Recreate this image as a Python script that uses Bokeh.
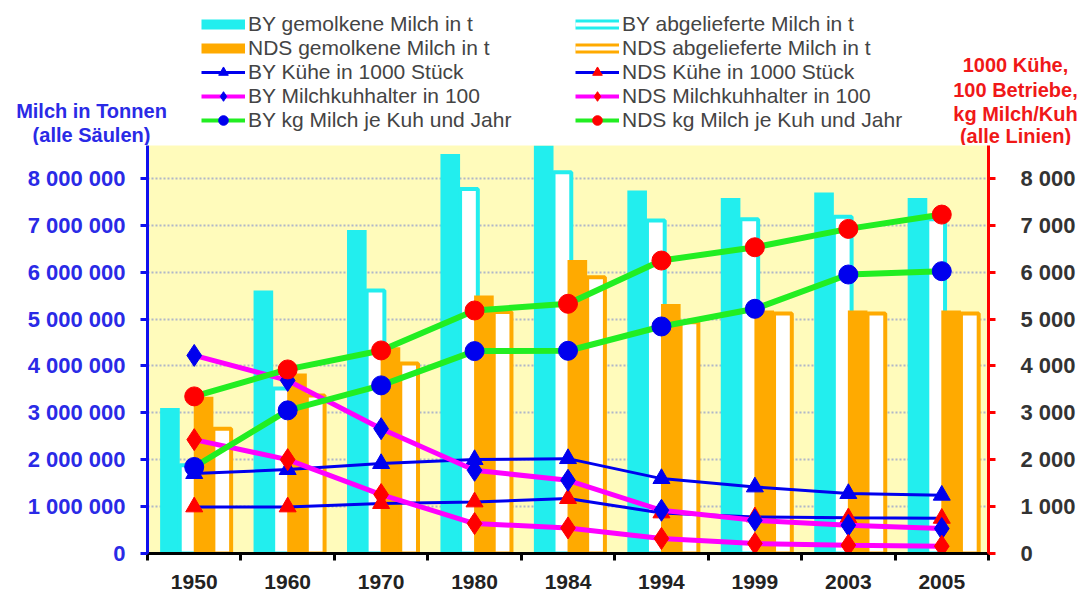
import numpy as np
from bokeh.plotting import figure
from bokeh.layouts import column
from bokeh.models import (Range1d, LinearAxis, FixedTicker, Legend, LegendItem, Label)
from bokeh.embed import file_html
from bokeh.resources import INLINE

# ---------------- data ----------------
years = ["1950", "1960", "1970", "1980", "1984", "1994", "1999", "2003", "2005"]

by_gemolken = [3100000, 5610000, 6900000, 8520000, 8750000, 7740000, 7580000, 7700000, 7580000]
by_abgeliefert = [1880000, 3520000, 5610000, 7770000, 8130000, 7100000, 7130000, 7180000, 7130000]
nds_gemolken = [3340000, 3840000, 4400000, 5500000, 6260000, 5320000, 5180000, 5180000, 5180000]
nds_abgeliefert = [2660000, 3370000, 4050000, 5150000, 5890000, 4930000, 5120000, 5120000, 5120000]

by_kuehe = [1704, 1789, 1917, 2002, 2023, 1597, 1419, 1278, 1242]
nds_kuehe = [993, 993, 1065, 1099, 1171, 865, 780, 760, 750]
by_halter = [4224, 3691, 2662, 1774, 1561, 922, 709, 603, 532]
nds_halter = [2428, 2002, 1257, 639, 545, 320, 213, 177, 155]
by_kg = [1845, 3052, 3585, 4316, 4323, 4841, 5218, 5949, 6020]
nds_kg = [3350, 3925, 4330, 5182, 5325, 6247, 6530, 6922, 7227]

left_tick_labels = ["0", "1 000 000", "2 000 000", "3 000 000", "4 000 000",
                    "5 000 000", "6 000 000", "7 000 000", "8 000 000"]
right_tick_labels = ["0", "1 000", "2 000", "3 000", "4 000", "5 000", "6 000", "7 000", "8 000"]

legend_col1 = ["BY gemolkene Milch in t", "NDS gemolkene Milch in t", "BY Kühe in 1000 Stück",
               "BY Milchkuhhalter in 100", "BY kg Milch je Kuh und Jahr"]
legend_col2 = ["BY abgelieferte Milch in t", "NDS abgelieferte Milch in t", "NDS Kühe in 1000 Stück",
               "NDS Milchkuhhalter in 100", "NDS kg Milch je Kuh und Jahr"]
left_title = ["Milch in Tonnen", "(alle Säulen)"]
right_title = ["1000 Kühe,", "100 Betriebe,", "kg Milch/Kuh", "(alle Linien)"]

# ---------------- styling ----------------
FONT = "Liberation Sans"
CYAN = "#22EEEE"
ORANGE = "#FFAA00"
BLUE = "#0000EE"
RED = "#FF0000"
GREEN = "#22EE22"
MAGENTA = "#FF00FF"
LEFT_COL = "#2A2AE6"
RIGHT_COL = "#F01818"

n = len(years)
xc = np.arange(n) + 0.5
left_ticks = [i * 1000000 for i in range(len(left_tick_labels))]
right_ticks = [i * 1000 for i in range(len(right_tick_labels))]

# ================= header (legends + axis titles) =================
HDR_H = 145
hdr = figure(width=1088, height=HDR_H, output_backend="svg", toolbar_location=None,
             x_range=Range1d(0, 1088), y_range=Range1d(HDR_H, 0),
             min_border=0, min_border_left=0, min_border_right=0,
             min_border_top=0, min_border_bottom=0,
             x_axis_location=None, y_axis_location=None,
             background_fill_color="white", border_fill_color="white",
             outline_line_color=None)
hdr.grid.visible = False
hdr.frame_align = False

nanx = [np.nan]


def proxy_bar(color, outline):
    rs = [hdr.line(nanx, nanx, line_color=color, line_width=10, line_cap="butt")]
    if outline:
        rs.append(hdr.line(nanx, nanx, line_color="white", line_width=4, line_cap="butt"))
    return rs


def proxy_series(lcolor, lw, marker, mcolor):
    return [hdr.line(nanx, nanx, line_color=lcolor, line_width=lw),
            hdr.scatter(nanx, nanx, marker=marker, fill_color=mcolor, line_color=mcolor)]


col1_r = [proxy_bar(CYAN, False), proxy_bar(ORANGE, False),
          proxy_series(BLUE, 3, "triangle", BLUE),
          proxy_series(MAGENTA, 4, "diamond", BLUE),
          proxy_series(GREEN, 4, "circle", BLUE)]
col2_r = [proxy_bar(CYAN, True), proxy_bar(ORANGE, True),
          proxy_series(BLUE, 3, "triangle", RED),
          proxy_series(MAGENTA, 4, "diamond", RED),
          proxy_series(GREEN, 4, "circle", RED)]

common = dict(padding=0, margin=0, border_line_color=None, background_fill_alpha=0,
              label_text_font=FONT, label_text_font_size="21px", label_standoff=3,
              glyph_width=44, glyph_height=24, label_height=20, spacing=0)
leg1 = Legend(items=[LegendItem(label=t, renderers=r) for t, r in zip(legend_col1, col1_r)],
              location=(201, 13), **common)
leg2 = Legend(items=[LegendItem(label=t, renderers=r) for t, r in zip(legend_col2, col2_r)],
              location=(575, 13), **common)
hdr.add_layout(leg1, "center")
hdr.add_layout(leg2, "center")

for t, y in zip(left_title, [110, 134]):
    hdr.add_layout(Label(x=91, y=y, text=t, text_align="center", text_baseline="middle",
                         text_font=FONT, text_font_size="20px", text_font_style="bold",
                         text_color=LEFT_COL))
for t, y in zip(right_title, [64, 89, 113, 135]):
    hdr.add_layout(Label(x=1015, y=y, text=t, text_align="center", text_baseline="middle",
                         text_font=FONT, text_font_size="20px", text_font_style="bold",
                         text_color=RIGHT_COL))

# ================= main chart =================
p = figure(width=1088, height=454, output_backend="svg", toolbar_location=None,
           x_range=Range1d(0, n), y_range=Range1d(0, 8700000),
           min_border_left=147, min_border_right=100, min_border_top=0, min_border_bottom=46,
           background_fill_color="#FFFBBB", border_fill_color="white",
           outline_line_color=None)
p.frame_align = False
p.extra_y_ranges = {"lines": Range1d(0, 8700)}

# bars
W = 0.21
WO = 0.19
p.vbar(x=xc - 0.26, top=by_gemolken, width=W, fill_color=CYAN, line_color=None)
p.vbar(x=xc - 0.06, top=by_abgeliefert, width=WO, fill_color="white", line_color=CYAN, line_width=4)
p.vbar(x=xc + 0.10, top=nds_gemolken, width=W, fill_color=ORANGE, line_color=None)
p.vbar(x=xc + 0.30, top=nds_abgeliefert, width=WO, fill_color="white", line_color=ORANGE, line_width=4)


def series(vals, lcolor, lw, marker, mcolor, msize):
    p.line(xc, vals, line_color=lcolor, line_width=lw, y_range_name="lines")
    p.scatter(xc, vals, marker=marker, size=msize, fill_color=mcolor,
              line_color=mcolor, y_range_name="lines")


series(by_kuehe, BLUE, 3, "triangle", BLUE, 17)
series(nds_kuehe, BLUE, 3, "triangle", RED, 17)
series(by_halter, MAGENTA, 5, "diamond", BLUE, 22)
series(nds_halter, MAGENTA, 5, "diamond", RED, 22)
series(by_kg, GREEN, 6, "circle", BLUE, 19)
series(nds_kg, GREEN, 6, "circle", RED, 19)

# grid
p.xgrid.visible = False
p.ygrid.ticker = FixedTicker(ticks=left_ticks)
p.ygrid.grid_line_color = "#9CA6CC"
p.ygrid.grid_line_width = 2
p.ygrid.grid_line_dash = "2 2"
p.ygrid.grid_line_alpha = 0.8

# x axis
xa = p.xaxis[0]
xa.ticker = FixedTicker(ticks=list(xc), minor_ticks=list(range(n + 1)))
xa.major_label_overrides = {float(x): y for x, y in zip(xc, years)}
xa.major_tick_out = 0
xa.major_tick_in = 0
xa.minor_tick_out = 7
xa.minor_tick_in = 0
xa.minor_tick_line_width = 3
xa.minor_tick_line_color = "black"
xa.axis_line_width = 3
xa.axis_line_color = "black"
xa.major_label_standoff = 14
xa.major_label_text_font = FONT
xa.major_label_text_font_size = "21px"
xa.major_label_text_font_style = "bold"
xa.major_label_text_color = "#222222"

# left axis
ya = p.yaxis[0]
ya.ticker = FixedTicker(ticks=left_ticks)
ya.major_label_overrides = dict(zip(left_ticks, left_tick_labels))
ya.axis_line_color = "#1010EE"
ya.axis_line_width = 3
ya.major_tick_line_color = "#1010EE"
ya.major_tick_line_width = 3
ya.major_tick_out = 7
ya.major_tick_in = 0
ya.minor_tick_line_color = None
ya.major_label_standoff = 15
ya.major_label_text_font = FONT
ya.major_label_text_font_size = "22px"
ya.major_label_text_font_style = "bold"
ya.major_label_text_color = LEFT_COL

# right axis
ra = LinearAxis(y_range_name="lines", ticker=FixedTicker(ticks=right_ticks))
ra.major_label_overrides = dict(zip(right_ticks, right_tick_labels))
ra.axis_line_color = RED
ra.axis_line_width = 3
ra.major_tick_line_color = RED
ra.major_tick_line_width = 3
ra.major_tick_out = 7
ra.major_tick_in = 0
ra.minor_tick_line_color = None
ra.major_label_standoff = 25
ra.major_label_text_font = FONT
ra.major_label_text_font_size = "22px"
ra.major_label_text_font_style = "bold"
ra.major_label_text_color = "#333333"
p.add_layout(ra, "right")

layout = column(hdr, p, spacing=0)
open("out.html", "w").write(file_html(layout, INLINE))
